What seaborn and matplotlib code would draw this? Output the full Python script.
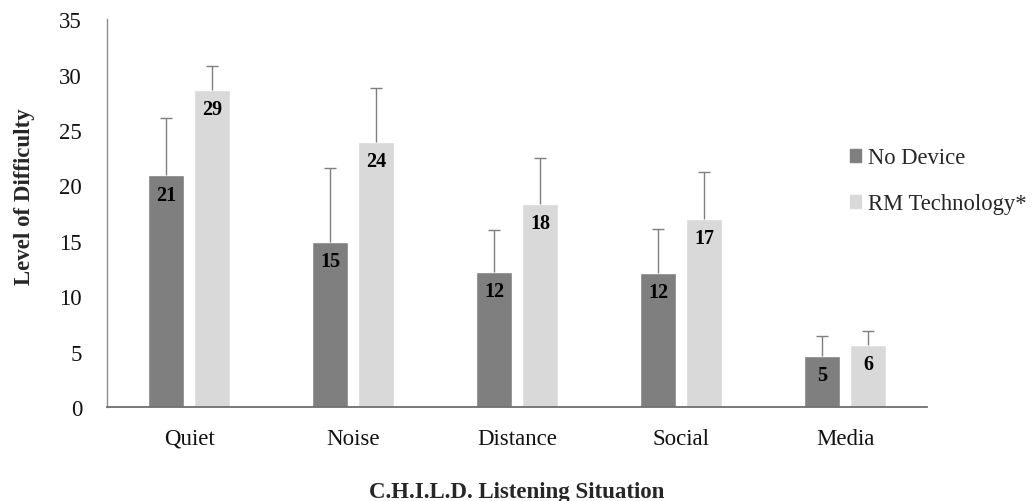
import pandas as pd
import matplotlib
matplotlib.use("Agg")
import matplotlib.pyplot as plt
import seaborn as sns

# datos
situaciones = ["Quiet", "Noise", "Distance", "Social", "Media"]
grupos = ["No Device", "RM Technology*"]
sin_equipo = [20.9, 14.9, 12.2, 12.1, 4.6]
con_rm = [28.6, 23.9, 18.3, 17.0, 5.6]
err_sin_equipo = [5.2, 6.7, 3.8, 4.0, 1.8]
err_con_rm = [2.2, 4.9, 4.2, 4.2, 1.25]
colores = ["#7f7f7f", "#d9d9d9"]

df = pd.DataFrame({
    "situacion": situaciones * 2,
    "grupo": [grupos[0]] * 5 + [grupos[1]] * 5,
    "valor": sin_equipo + con_rm,
})

sns.set_style("white")
plt.rcParams["font.family"] = "serif"
plt.rcParams["font.serif"] = ["Liberation Serif", "DejaVu Serif"]

fig = plt.figure(figsize=(10.32, 5.02), dpi=100)
ax = fig.add_axes([0.1037, 0.187, 0.7946, 0.773])

sns.barplot(data=df, x="situacion", y="valor", hue="grupo", order=situaciones,
            hue_order=grupos, palette=colores, width=0.56, gap=0.21,
            errorbar=None, saturation=1, legend=True, ax=ax)

# barras de error solo hacia arriba
for cont, errs in zip(ax.containers, [err_sin_equipo, err_con_rm]):
    xs = [p.get_x() + p.get_width() / 2 for p in cont]
    ys = [p.get_height() for p in cont]
    eb = ax.errorbar(xs, ys, yerr=[[0] * len(errs), errs], fmt="none",
                     ecolor="#7f7f7f", elinewidth=1.0, capsize=4, capthick=1.0)
    eb[1][0].set_visible(False)
    ax.bar_label(cont, labels=[f"{v:.0f}" for v in cont.datavalues],
                 padding=-21, fontsize=14.5, fontweight="bold", color="black")

ax.set_ylim(0, 35)
ax.set_xlim(-0.5, 4.5)
ax.set_yticks(range(0, 36, 5))
ax.tick_params(axis="both", length=0, labelsize=16.5, colors="#111111")
ax.tick_params(axis="y", pad=18)
ax.tick_params(axis="x", pad=15)
for s in ["top", "right"]:
    ax.spines[s].set_visible(False)
ax.spines["left"].set_color("#8c8c8c")
ax.spines["bottom"].set_color("#6e6e6e")
ax.spines["left"].set_linewidth(1.0)
ax.spines["bottom"].set_linewidth(1.3)

ax.set_ylabel("Level of Difficulty", fontsize=16.5, fontweight="bold")
ax.yaxis.set_label_coords(-0.088, 0.544)
ax.set_xlabel("C.H.I.L.D. Listening Situation", fontsize=16.5, fontweight="bold")
ax.xaxis.set_label_coords(0.5, -0.19)

ax.legend_.remove()
handles = [plt.Rectangle((0, 0), 1, 1, color=c) for c in colores]
fig.legend(handles, grupos, loc="upper left", bbox_to_anchor=(0.804, 0.745),
           frameon=False, fontsize=16.3, handlelength=0.5, handleheight=0.5,
           handletextpad=0.3, labelspacing=1.1)

fig.savefig("out.png", dpi=100)
